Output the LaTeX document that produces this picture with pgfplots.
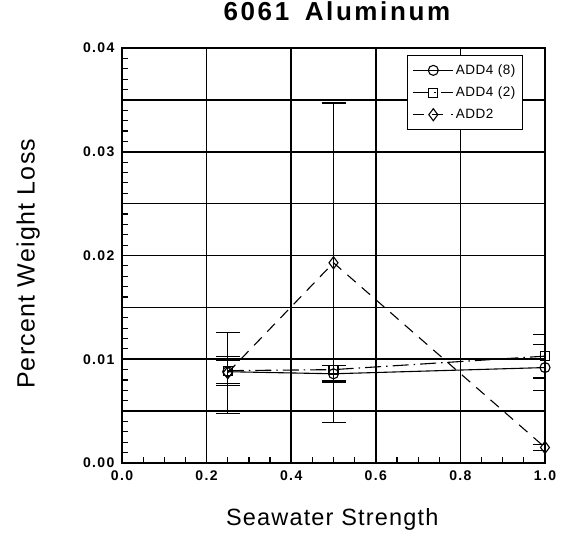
\documentclass[border=0pt]{standalone}
\usepackage{pgfplots}
\pgfplotsset{compat=1.18}
\usepackage{fontspec}
\setmainfont{Liberation Sans}
\newfontfamily\tickfont[LetterSpace=10]{Liberation Sans}
\newfontfamily\labfont[LetterSpace=5]{Liberation Sans}
\newfontfamily\titfont[LetterSpace=10]{Liberation Sans}
\newfontfamily\legfont[LetterSpace=4]{Liberation Sans}
\begin{document}
\begin{tikzpicture}
\useasboundingbox (0,0) rectangle (564pt,544pt);
\begin{axis}[
  at={(122pt,81pt)}, anchor=south west,
  scale only axis, width=423pt, height=415pt,
  xmin=0, xmax=1, ymin=0, ymax=0.04,
  xtick={0,0.2,0.4,0.6,0.8,1.0},
  xticklabels={0.0,0.2,0.4,0.6,0.8,1.0},
  minor x tick num=3,
  ytick={0,0.005,0.01,0.015,0.02,0.025,0.03,0.035,0.04},
  yticklabels={0.00,,0.01,,0.02,,0.03,,0.04},
  scaled y ticks=false, scaled x ticks=false,
  minor y tick num=4,
  xtick pos=bottom, ytick pos=left,
  tick align=inside,
  major tick length=0pt, minor tick length=6pt,
  grid=major,
  major grid style={black, line width=1.7pt},
  axis line style={black, line width=1.9pt},
  every minor tick/.style={black, line width=1.2pt},
  /pgf/number format/assume math mode=true,
  ticklabel style={font=\tickfont\bfseries\fontsize{14}{14}\selectfont},
  xticklabel style={yshift=-4pt},
  yticklabel style={xshift=-4pt},
  title={\titfont\bfseries\fontsize{26}{26}\selectfont 6061\hspace{0.6em}Aluminum},
  title style={at={(axis description cs:0.508,1.075)}, anchor=center},
  xlabel={\labfont\fontsize{23.5}{23.5}\selectfont Seawater Strength},
  xlabel style={at={(axis description cs:0.497,-0.135)}, anchor=center},
  ylabel={\labfont\fontsize{25}{25}\selectfont Percent Weight Loss},
  ylabel style={at={(axis description cs:-0.222,0.48)}, anchor=center, rotate=0},
  legend style={at={(axis description cs:0.674,0.983)}, anchor=north west,
    draw=black, line width=1.3pt, fill=white, font=\legfont\fontsize{13.5}{13.5}\selectfont,
    inner xsep=5pt, inner ysep=7pt, row sep=7pt},
  legend cell align=left,
  legend image code/.code={\draw[#1] (0pt,0pt) -- (40pt,0pt); \draw[#1, solid] plot coordinates {(20pt,0pt)};},
]
\addplot[black, line width=1.1pt, mark=o, mark size=5pt, mark options={solid, line width=1.1pt},
  error bars/.cd, y dir=both, y explicit,
  error bar style={line width=1.2pt, solid},
  error mark options={rotate=90, mark size=12pt, line width=1.2pt, solid}]
  coordinates {
  (0.25,0.0088) +- (0,0.0011)
  (0.5,0.0086) +- (0,0.0008)
  (1.0,0.0092) +- (0,0.0022)
};
\addlegendentry{ADD4 (8)}
\addplot[black, line width=1.1pt, dash pattern=on 16pt off 5pt on 1.5pt off 5pt,
  mark=square, mark size=4.5pt, mark options={solid, line width=1.1pt},
  error bars/.cd, y dir=both, y explicit,
  error bar style={line width=1.2pt, solid},
  error mark options={rotate=90, mark size=12pt, line width=1.2pt, solid}]
  coordinates {
  (0.25,0.0089) +- (0,0.0014)
  (0.5,0.0090) +- (0,0.0011)
  (1.0,0.0103) +- (0,0.0021)
};
\addlegendentry{ADD4 (2)}
\addplot[black, line width=1.1pt, dash pattern=on 11pt off 8pt,
  mark=diamond, mark size=6pt, mark options={solid, line width=1.1pt},
  error bars/.cd, y dir=both, y explicit,
  error bar style={line width=1.2pt, solid},
  error mark options={rotate=90, mark size=12pt, line width=1.2pt, solid}]
  coordinates {
  (0.25,0.0087) +- (0,0.0039)
  (0.5,0.0193) +- (0,0.0154)
  (1.0,0.0015) +- (0,0.0003)
};
\addlegendentry{ADD2}
\end{axis}
\end{tikzpicture}
\end{document}
